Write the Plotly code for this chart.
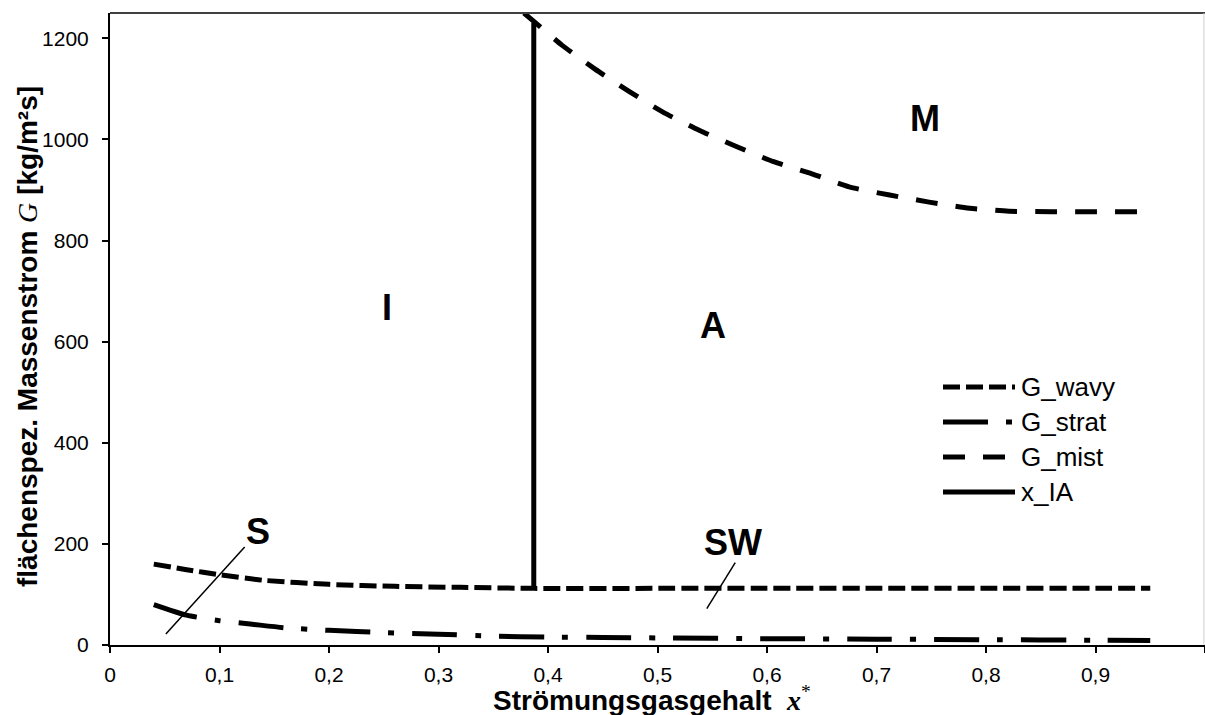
import plotly.graph_objects as go

# ---- data ----
wavy_x = [0.04, 0.07, 0.10, 0.14, 0.20, 0.26, 0.32, 0.387, 0.50, 0.60, 0.70, 0.80, 0.90, 0.95]
wavy_y = [160, 149, 139, 128, 120, 116, 114, 112, 112, 112, 112, 112, 112, 112]

strat_x = [0.04, 0.07, 0.10, 0.13, 0.16, 0.20, 0.25, 0.30, 0.35, 0.40, 0.45, 0.50, 0.60, 0.70, 0.80, 0.90, 0.95]
strat_y = [80, 59, 48, 41, 34, 29, 24.5, 21.5, 17.5, 15.5, 15, 14, 12.5, 11.5, 10.5, 9.5, 9]

mist_x = [0.378, 0.39, 0.413, 0.443, 0.474, 0.505, 0.538, 0.572, 0.606, 0.641, 0.675, 0.712, 0.748, 0.785, 0.821, 0.86, 0.90, 0.95]
mist_y = [1250, 1228, 1186, 1139, 1095, 1054, 1018, 986, 956, 932, 906, 890, 876, 864, 858, 857, 857, 857]

xia_x = [0.387, 0.387]
xia_y = [112, 1230]

series_names = ["G_wavy", "G_strat", "G_mist", "x_IA"]
series_dash = ["17px,6px", "45px,18px,6px,18px", "22px,18px", "solid"]

x_ticks = [0, 0.1, 0.2, 0.3, 0.4, 0.5, 0.6, 0.7, 0.8, 0.9, 1]
x_ticktext = ["0", "0,1", "0,2", "0,3", "0,4", "0,5", "0,6", "0,7", "0,8", "0,9", "1"]
y_ticks = [0, 200, 400, 600, 800, 1000, 1200]
y_ticktext = ["0", "200", "400", "600", "800", "1000", "1200"]

region_labels = ["M", "I", "A", "S", "SW"]
region_x = [0.744, 0.253, 0.551, 0.135, 0.569]
region_y = [1042, 668, 631, 224, 202]

leader_lines = [((0.051, 22), (0.123, 194)), ((0.545, 72), (0.571, 163))]

FONT = "Arial, 'Liberation Sans', sans-serif"

fig = go.Figure()
all_x = [wavy_x, strat_x, mist_x, xia_x]
all_y = [wavy_y, strat_y, mist_y, xia_y]
for name, xs, ys, dash in zip(series_names, all_x, all_y, series_dash):
    shape = "linear" if name == "x_IA" else "spline"
    fig.add_trace(go.Scatter(x=xs, y=ys, mode="lines", name=name, showlegend=False,
                             line=dict(color="black", width=5, dash=dash, shape=shape, smoothing=0.6)))

shapes = []
# leader lines for S and SW
for (x0, y0), (x1, y1) in leader_lines:
    shapes.append(dict(type="line", xref="x", yref="y", x0=x0, y0=y0, x1=x1, y1=y1,
                       line=dict(color="black", width=1.5)))
# frame: top and right borders
shapes.append(dict(type="line", xref="paper", yref="paper", x0=0, y0=1, x1=1, y1=1,
                   line=dict(color="#404040", width=2)))
shapes.append(dict(type="line", xref="paper", yref="paper", x0=0.999, y0=0, x1=0.999, y1=1,
                   line=dict(color="#d0d0d0", width=1)))

annotations = []
for t, x, y in zip(region_labels, region_x, region_y):
    annotations.append(dict(text="<b>%s</b>" % t, x=x, y=y, xref="x", yref="y", showarrow=False,
                            font=dict(family=FONT, size=36, color="black")))

# custom legend (long line samples)
PW, PH, L, T = 1095.0, 632.0, 110.0, 13.0
leg_rows_y = [387, 422, 457, 492]
for name, dash, py in zip(series_names, series_dash, leg_rows_y):
    yy = 1 - (py - T) / PH
    shapes.append(dict(type="line", xref="paper", yref="paper",
                       x0=(943 - L) / PW, x1=(1015 - L) / PW, y0=yy, y1=yy,
                       line=dict(color="black", width=5, dash=dash)))
    annotations.append(dict(text=name, xref="paper", yref="paper", x=(1019 - L) / PW, y=yy,
                            xanchor="left", yanchor="middle", showarrow=False,
                            font=dict(family=FONT, size=26, color="black")))

# axis titles
annotations.append(dict(
    text="<b>flächenspez. Massenstrom </b><span style=\"font-family:'Times New Roman','Liberation Serif',serif\"><i>G</i></span><b> [kg/m²s]</b>",
    xref="paper", yref="paper", x=(27 - L) / PW, y=0.5 - 8 / PH, textangle=-90,
    xanchor="center", yanchor="middle", showarrow=False,
    font=dict(family=FONT, size=28, color="black")))
annotations.append(dict(
    text="<b>Strömungsgasgehalt  </b><span style=\"font-family:'Times New Roman','Liberation Serif',serif\"><b><i>x</i></b><sup>*</sup></span>",
    xref="paper", yref="paper", x=(652 - L) / PW, y=1 - (698 - T) / PH,
    xanchor="center", yanchor="middle", showarrow=False,
    font=dict(family=FONT, size=28, color="black")))

fig.update_layout(
    width=1205, height=715,
    margin=dict(l=110, r=0, t=13, b=70),
    paper_bgcolor="white", plot_bgcolor="white",
    shapes=shapes, annotations=annotations,
    font=dict(family=FONT, color="black"),
)
fig.update_xaxes(range=[0, 1], tickmode="array", tickvals=x_ticks, ticktext=x_ticktext,
                 showgrid=False, zeroline=False, showline=True, linecolor="black", linewidth=2,
                 ticks="outside", ticklen=6, tickwidth=2, tickcolor="black",
                 tickfont=dict(family=FONT, size=21, color="black"), ticklabelstandoff=4)
fig.update_yaxes(range=[0, 1250], tickmode="array", tickvals=y_ticks, ticktext=y_ticktext,
                 showgrid=False, zeroline=False, showline=True, linecolor="black", linewidth=2,
                 ticks="outside", ticklen=6, tickwidth=2, tickcolor="black",
                 tickfont=dict(family=FONT, size=21, color="black"), ticklabelstandoff=9)

fig.write_html("out.html")
